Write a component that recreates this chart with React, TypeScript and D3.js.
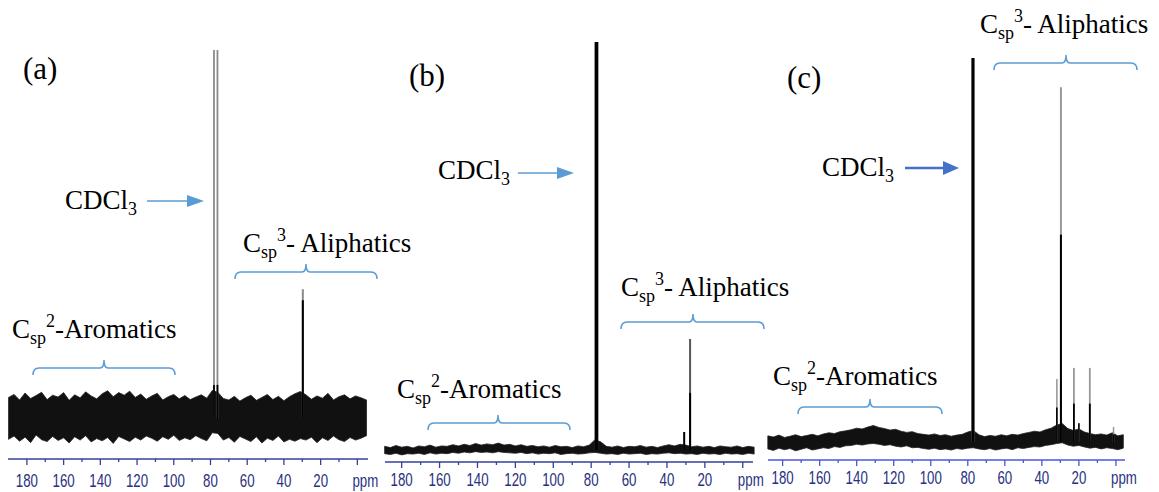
import React from "react";
import * as d3 from "d3";

// ppm grid: every 10 ppm gets a tick, every 20 ppm a label
const tickPpm = [180, 170, 160, 150, 140, 130, 120, 110, 100, 90, 80, 70, 60, 50, 40, 30, 20, 10, 0];
const labelPpm = [180, 160, 140, 120, 100, 80, 60, 40, 20];

// noise envelopes (intensity units, CDCl3 peak = 100), sampled every 3 ppm from start
const aNoiseStart = 190;
const aNoiseHi = [5.6, 6.4, 4.9, 6.8, 5.3, 6.1, 7.0, 5.0, 6.2, 5.7, 6.9, 4.8, 6.3, 5.5, 7.1, 6.0, 5.2, 6.6, 7.4, 5.8, 6.9, 6.2, 7.3, 5.6, 6.5, 5.1, 6.0, 6.7, 4.9, 5.8, 6.4, 5.2, 6.1, 5.0, 5.7, 6.3, 5.4, 7.5, 7.0, 5.3, 4.9, 5.9, 4.6, 5.5, 6.2, 4.8, 5.6, 6.4, 5.0, 5.9, 4.7, 5.8, 6.6, 7.2, 6.3, 5.1, 6.0, 5.4, 6.7, 4.9, 5.8, 6.3, 5.2, 6.0, 5.5, 4.9];
const aNoiseLo = [-5.8, -4.9, -6.3, -5.2, -6.7, -4.6, -5.9, -6.4, -5.0, -6.1, -5.4, -6.8, -5.1, -6.0, -4.8, -6.5, -5.6, -6.2, -5.3, -6.9, -5.0, -5.7, -6.4, -5.2, -6.0, -4.9, -5.5, -6.3, -5.1, -5.8, -4.7, -6.1, -5.4, -5.9, -4.8, -5.6, -6.2, -4.0, -4.2, -6.0, -5.3, -6.6, -5.0, -5.7, -6.4, -5.1, -6.8, -5.5, -6.1, -4.9, -6.5, -5.8, -6.3, -5.6, -6.0, -5.2, -6.7, -5.4, -6.1, -4.9, -5.9, -6.4, -5.3, -6.0, -5.5, -4.8];

const bNoiseStart = 189;
const bNoiseHi = [0.9, 0.6, 1.1, 0.7, 0.9, 0.5, 1.0, 0.8, 1.2, 0.7, 1.0, 0.9, 1.3, 1.0, 1.4, 1.1, 1.6, 1.2, 1.5, 1.3, 1.7, 1.2, 1.4, 1.0, 1.3, 0.9, 1.1, 0.8, 1.0, 0.7, 1.1, 0.8, 0.9, 0.6, 1.0, 0.8, 1.2, 2.5, 2.0, 0.9, 0.7, 1.0, 0.6, 0.9, 0.8, 1.1, 0.7, 0.9, 0.6, 1.0, 1.3, 1.0, 1.4, 1.2, 0.8, 1.0, 0.7, 0.9, 0.6, 1.0, 0.8, 0.7, 1.0, 0.6, 0.9, 0.7];
const bNoiseLo = [-0.9, -1.1, -0.8, -1.2, -0.9, -1.0, -0.8, -1.1, -0.7, -1.0, -0.8, -0.9, -0.6, -0.8, -0.5, -0.7, -0.4, -0.6, -0.5, -0.7, -0.4, -0.6, -0.7, -0.8, -0.6, -0.9, -0.7, -1.0, -0.8, -0.9, -0.7, -1.1, -0.9, -0.8, -1.0, -0.9, -0.7, -0.6, -0.8, -1.0, -0.9, -1.1, -0.8, -1.0, -0.9, -0.8, -1.1, -0.9, -1.0, -0.8, -0.7, -0.9, -0.8, -1.0, -0.9, -1.1, -0.8, -1.0, -0.9, -1.1, -0.8, -1.0, -0.9, -1.1, -0.8, -1.0];

const cNoiseStart = 188;
const cNoiseHi = [1.6, 1.3, 1.8, 1.2, 1.5, 1.9, 1.4, 1.7, 2.0, 1.6, 2.1, 2.4, 2.2, 2.7, 2.9, 3.2, 3.6, 3.4, 3.9, 4.3, 3.8, 3.5, 3.1, 3.3, 2.8, 2.5, 2.7, 2.2, 2.0, 1.8, 2.1, 1.7, 1.9, 1.5, 1.8, 2.0, 2.6, 3.0, 1.9, 1.4, 1.7, 1.5, 1.9, 1.6, 2.0, 1.8, 2.2, 2.5, 2.8, 2.6, 3.2, 3.6, 4.4, 4.8, 3.5, 3.0, 3.4, 2.6, 2.2, 1.9, 2.1, 1.8, 2.4, 1.6, 1.9];
const cNoiseLo = [-1.8, -2.2, -1.6, -2.0, -1.7, -2.3, -1.9, -1.5, -2.1, -1.8, -1.5, -1.7, -1.2, -1.4, -1.0, -0.9, -0.6, -0.8, -0.5, -0.4, -0.6, -0.9, -0.7, -1.1, -1.3, -1.0, -1.5, -1.4, -1.7, -1.9, -1.6, -2.0, -1.8, -2.1, -1.7, -1.9, -1.6, -1.5, -1.8, -2.0, -1.7, -2.1, -1.8, -1.6, -2.0, -1.5, -1.7, -1.4, -1.2, -1.3, -0.9, -0.7, -0.4, -0.2, -0.8, -1.1, -0.9, -1.3, -1.6, -1.4, -1.8, -1.5, -1.7, -2.0, -1.6];

// peaks: position (ppm), height, height of the dark lower part
const aPeakPpm = [78.1, 76.2, 29.7];
const aPeakHeight = [100, 100, 35];
const aPeakSolid = [9, 9, 32];

const bPeakPpm = [77.2, 30.9, 27.8];
const bPeakHeight = [100, 4.4, 27.2];
const bPeakSolid = [100, 4.4, 14];

const cPeakPpm = [77.2, 31.9, 29.7, 22.7, 20.0, 14.1, 1.3];
const cPeakHeight = [100, 16.4, 92.4, 19.3, 4.9, 19.3, 3.9];
const cPeakSolid = [100, 9, 54, 10, 4.9, 10, 2];

const serif = "'Liberation Serif', 'Times New Roman', serif";
const bracketBlue = "#5b9bd5";

type PanelProps = {
  range: [number, number];
  domain: [number, number];
  base: number;
  top: number;
  axisY: number;
  labelY: number;
  axisColor: string;
  labelColor: string;
  noiseStart: number;
  noiseHi: number[];
  noiseLo: number[];
  peakPpm: number[];
  peakHeight: number[];
  peakSolid: number[];
  peakColor: string;
  peakWidth: number[];
};

const Panel: React.FC<PanelProps> = (p) => {
  const x = d3.scaleLinear().domain(p.domain).range(p.range);
  const y = d3.scaleLinear().domain([0, 100]).range([p.base, p.top]);
  const step = 3;
  const area = d3
    .area<number>()
    .x((d, i) => x(p.noiseStart - i * step))
    .y0((d, i) => y(p.noiseLo[i]))
    .y1((d) => y(d));

  return (
    <g>
      <path d={area(p.noiseHi) || ""} fill="#111" stroke="#222" strokeWidth={0.8} strokeLinejoin="miter" />
      {p.peakPpm.map((ppm, i) => (
        <g key={i}>
          <line x1={x(ppm)} x2={x(ppm)} y1={y(0)} y2={y(p.peakHeight[i])} stroke={p.peakColor} strokeWidth={p.peakWidth[i]} />
          <line x1={x(ppm)} x2={x(ppm)} y1={y(0)} y2={y(p.peakSolid[i])} stroke="#000" strokeWidth={p.peakWidth[i]} />
        </g>
      ))}
      <line x1={p.range[0]} x2={p.range[1]} y1={p.axisY} y2={p.axisY} stroke={p.axisColor} strokeWidth={1.6} />
      {tickPpm.map((t) => (
        <line key={t} x1={x(t)} x2={x(t)} y1={p.axisY} y2={p.axisY + (t % 20 === 0 ? 6 : 3)} stroke={p.axisColor} strokeWidth={1.3} />
      ))}
      {labelPpm.map((t) => (
        <text key={t} transform={`translate(${x(t)},${p.labelY}) scale(0.7,1)`} textAnchor="middle" fontFamily="'Liberation Sans', Arial, sans-serif" fontSize={19} fill={p.labelColor}>
          {t}
        </text>
      ))}
      <text transform={`translate(${x(0) + 8},${p.labelY}) scale(0.7,1)`} textAnchor="middle" fontFamily="'Liberation Sans', Arial, sans-serif" fontSize={19} fill={p.labelColor}>
        ppm
      </text>
    </g>
  );
};

const Csp: React.FC<{ x: number; y: number; sup: string; rest: string }> = ({ x, y, sup, rest }) => (
  <text x={x} y={y} fontFamily={serif} fontSize={27} fill="#000">
    C
    <tspan fontSize={18} dy={6}>sp</tspan>
    <tspan fontSize={18} dy={-17}>{sup}</tspan>
    <tspan dy={11}>{rest}</tspan>
  </text>
);

const Cdcl: React.FC<{ x: number; y: number }> = ({ x, y }) => (
  <text x={x} y={y} fontFamily={serif} fontSize={27} fill="#000">
    CDCl<tspan fontSize={18} dy={6}>3</tspan>
  </text>
);

const Arrow: React.FC<{ x1: number; x2: number; y: number; color: string; w: number; head: number; half: number }> = ({ x1, x2, y, color, w, head, half }) => (
  <g>
    <line x1={x1} x2={x2 - head + 1} y1={y} y2={y} stroke={color} strokeWidth={w} />
    <polygon points={`${x2},${y} ${x2 - head},${y - half} ${x2 - head},${y + half}`} fill={color} />
  </g>
);

// horizontal curly brace, ends curl down, cusp points up at the middle
const Brace: React.FC<{ x0: number; x1: number; y: number; cx: number }> = ({ x0, x1, y, cx }) => (
  <path
    d={`M${x0},${y + 7} Q${x0},${y} ${x0 + 6},${y} L${cx - 4},${y} Q${cx},${y} ${cx},${y - 8} Q${cx},${y} ${cx + 4},${y} L${x1 - 6},${y} Q${x1},${y} ${x1},${y + 7}`}
    fill="none"
    stroke={bracketBlue}
    strokeWidth={1.5}
  />
);

export default function App() {
  return (
    <svg width={1159} height={492} style={{ position: "absolute", left: 0, top: 0, background: "#fff" }}>
      {/* (a) */}
      <Panel
        range={[8, 368]}
        domain={[190.3, -5.8]}
        base={418}
        top={50}
        axisY={459}
        labelY={487}
        axisColor="#34409a"
        labelColor="#283080"
        noiseStart={aNoiseStart}
        noiseHi={aNoiseHi}
        noiseLo={aNoiseLo}
        peakPpm={aPeakPpm}
        peakHeight={aPeakHeight}
        peakSolid={aPeakSolid}
        peakColor="#8a8a8a"
        peakWidth={[1.8, 1.8, 2]}
      />
      <text x={23} y={79} fontFamily={serif} fontSize={31}>(a)</text>
      <Cdcl x={65} y={209} />
      <Arrow x1={147} x2={204} y={201} color={bracketBlue} w={1.5} head={17} half={6} />
      <Csp x={243} y={252} sup="3" rest="- Aliphatics" />
      <Brace x0={235} x1={377} y={272} cx={306} />
      <Csp x={12} y={338} sup="2" rest="-Aromatics" />
      <Brace x0={33} x1={175} y={368} cx={104} />

      {/* (b) */}
      <Panel
        range={[385, 753]}
        domain={[188.8, -5.4]}
        base={450}
        top={42}
        axisY={462}
        labelY={486}
        axisColor="#34409a"
        labelColor="#283080"
        noiseStart={bNoiseStart}
        noiseHi={bNoiseHi}
        noiseLo={bNoiseLo}
        peakPpm={bPeakPpm}
        peakHeight={bPeakHeight}
        peakSolid={bPeakSolid}
        peakColor="#555"
        peakWidth={[3.5, 1.8, 2]}
      />
      <text x={409} y={86} fontFamily={serif} fontSize={31}>(b)</text>
      <Cdcl x={438} y={179} />
      <Arrow x1={518} x2={574} y={173} color={bracketBlue} w={1.5} head={17} half={6} />
      <Csp x={621} y={296} sup="3" rest="- Aliphatics" />
      <Brace x0={621} x1={764} y={322} cx={693} />
      <Csp x={397} y={398} sup="2" rest="-Aromatics" />
      <Brace x0={428} x1={570} y={423} cx={498} />

      {/* (c) */}
      <Panel
        range={[768, 1125]}
        domain={[187.9, -4.9]}
        base={442}
        top={58}
        axisY={460}
        labelY={484}
        axisColor="#4a57d8"
        labelColor="#283080"
        noiseStart={cNoiseStart}
        noiseHi={cNoiseHi}
        noiseLo={cNoiseLo}
        peakPpm={cPeakPpm}
        peakHeight={cPeakHeight}
        peakSolid={cPeakSolid}
        peakColor="#999"
        peakWidth={[3, 1.6, 2, 1.8, 1.5, 1.8, 1.5]}
      />
      <text x={787} y={88} fontFamily={serif} fontSize={31}>(c)</text>
      <Cdcl x={822} y={176} />
      <Arrow x1={905} x2={959} y={168} color="#4472c4" w={2.5} head={16} half={7} />
      <Csp x={980} y={33} sup="3" rest="- Aliphatics" />
      <Brace x0={994} x1={1137} y={63} cx={1066} />
      <Csp x={773} y={385} sup="2" rest="-Aromatics" />
      <Brace x0={798} x1={942} y={407} cx={870} />
    </svg>
  );
}
